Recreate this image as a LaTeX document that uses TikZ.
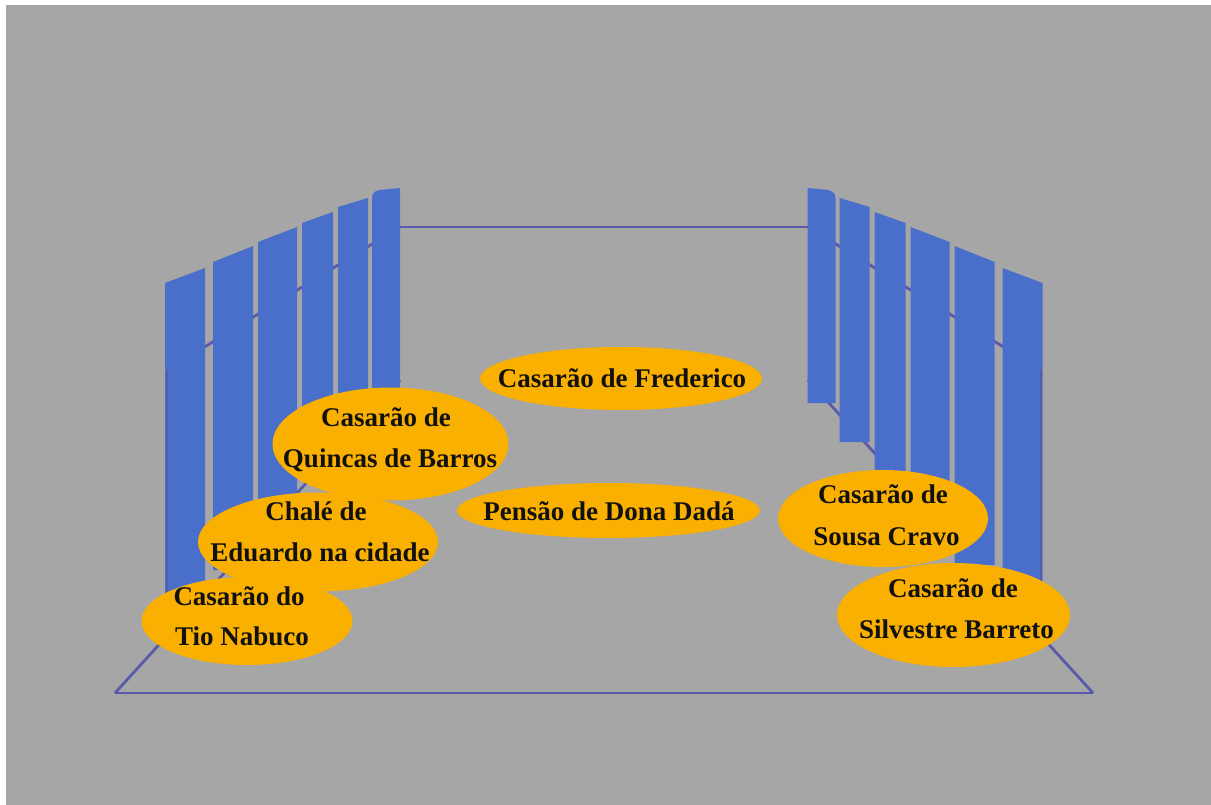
\documentclass[tikz,border=0pt]{standalone}
\usepackage{fontspec}
\setmainfont{Liberation Serif}
\usetikzlibrary{shapes.geometric}
\definecolor{bggray}{HTML}{A6A6A6}
\definecolor{panelblue}{HTML}{4A6FCB}
\definecolor{edgeblue}{HTML}{5A5AAA}
\definecolor{housegold}{HTML}{F9B000}
\definecolor{inkblack}{HTML}{111111}
\tikzset{
  edgeline/.style={draw=edgeblue, line width=2.8pt},
  panelfill/.style={fill=panelblue},
  house/.style={ellipse, fill=housegold, inner sep=0pt, draw=none},
  lbl/.style={anchor=base, inner sep=0pt, text=inkblack,
              font=\bfseries\fontsize{27}{32}\selectfont}
}
\begin{document}
\begin{tikzpicture}[x=1pt,y=-1pt]
\useasboundingbox (0,0) rectangle (1211,805);
\fill[white] (0,0) rectangle (1211,805);
\fill[bggray] (6,5) rectangle (1211,805);

% floor and wall outline
\coordinate (fl) at (115,693);
\coordinate (fr) at (1093,693);
\coordinate (bl) at (400,380);
\coordinate (br) at (808,380);
\coordinate (tl) at (400,227);
\coordinate (tr) at (808,227);
\coordinate (wl) at (167,370);
\coordinate (wr) at (1041,370);
\coordinate (wlb) at (167,600);
\coordinate (wrb) at (1041,600);
\draw[edgeline] (fl) -- (fr);
\draw[edgeline] (fl) -- (bl);
\draw[edgeline] (fr) -- (br);
\draw[edgeline] (tl) -- (tr);
\draw[edgeline] (wl) -- (tl);
\draw[edgeline] (tr) -- (wr);

% left panels
\foreach \xa/\ya/\xb/\yb/\yc in {165/283/205/268/600, 213/262/253/246/570,
  258/242/297/227/505, 302/223/333/212/473, 338/207/368/198/442}{
  \fill[panelfill] (\xa,\yc) -- (\xa,\ya) -- (\xb,\yb) -- (\xb,\yc) -- cycle;
}
\fill[panelfill] (372,403) -- (372,198) .. controls (372,192) and (376,190) .. (384,189.5) -- (400,188) -- (400,403) -- cycle;

% right panels (mirror image)
\begin{scope}[xshift=1207.5pt, xscale=-1]
\foreach \xa/\ya/\xb/\yb/\yc in {165/283/205/268/600, 213/262/253/246/565,
  258/242/297/227/505, 302/223/333/212/473, 338/207/368/198/442}{
  \fill[panelfill] (\xa,\yc) -- (\xa,\ya) -- (\xb,\yb) -- (\xb,\yc) -- cycle;
}
\fill[panelfill] (372,403) -- (372,198) .. controls (372,192) and (376,190) .. (384,189.5) -- (400,188) -- (400,403) -- cycle;
\end{scope}

\draw[edgeline] (wl) -- (wlb);
\draw[edgeline] (wr) -- (wrb);

% houses
\node[house, minimum width=282pt, minimum height=63pt] (frederico) at (621,378.5) {};
\node[lbl] (frederico-a) at (622,387.3) {Casarão de Frederico};

\node[house, minimum width=303pt, minimum height=55pt] (pensao) at (608.5,510.5) {};
\node[lbl] (pensao-a) at (609,520) {Pensão de Dona Dadá};

\node[house, minimum width=236pt, minimum height=113pt] (quincas) at (390.5,444) {};
\node[lbl] (quincas-a) at (386,426.7) {Casarão de};
\node[lbl] (quincas-b) at (390,467.3) {Quincas de Barros};

\node[house, minimum width=240pt, minimum height=99pt] (chale) at (318,542) {};
\node[lbl] (chale-a) at (316,520.7) {Chalé de};
\node[lbl] (chale-b) at (320,561.7) {Eduardo na cidade};

\node[house, minimum width=211pt, minimum height=88pt] (nabuco) at (247,621) {};
\node[lbl, anchor=base west] (nabuco-a) at (173.3,605) {Casarão do};
\node[lbl, anchor=base west] (nabuco-b) at (175,645.7) {Tio Nabuco};

\node[house, minimum width=210pt, minimum height=97pt] (sousa) at (883,518.5) {};
\node[lbl] (sousa-a) at (883,503.3) {Casarão de};
\node[lbl] (sousa-b) at (886.5,545) {Sousa Cravo};

\node[house, minimum width=233pt, minimum height=104pt] (silvestre) at (953.5,615) {};
\node[lbl] (silvestre-a) at (953,597.7) {Casarão de};
\node[lbl] (silvestre-b) at (956.5,638.3) {Silvestre Barreto};
\end{tikzpicture}
\end{document}
